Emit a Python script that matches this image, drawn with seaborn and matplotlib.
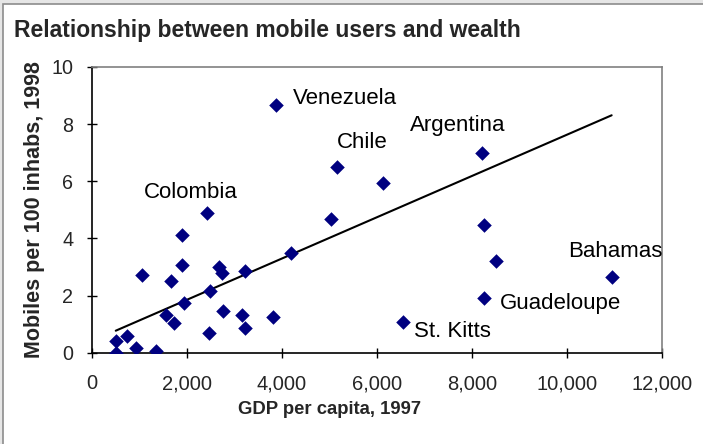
import matplotlib
matplotlib.use("Agg")
import matplotlib.pyplot as plt
import seaborn as sns
import pandas as pd
import numpy as np
from matplotlib.patches import Rectangle
from matplotlib.ticker import FuncFormatter, MultipleLocator

# GDP per capita 1997 (US$) and mobiles per 100 inhabitants 1998
gdp = [3870, 5165, 6130, 2415, 5040, 1890, 4190, 1045, 1890, 2680,
       2730, 3220, 1665, 2485, 1935, 1560, 1725, 2765, 3150, 3805,
       3230, 2470, 745, 500, 500, 920, 1345, 6555, 8205, 8245,
       8500, 10940, 8245]
mobiles = [8.66, 6.50, 5.94, 4.90, 4.67, 4.12, 3.50, 2.72, 3.07, 3.01,
           2.78, 2.87, 2.52, 2.17, 1.75, 1.32, 1.05, 1.47, 1.32, 1.26,
           0.85, 0.70, 0.58, 0.42, 0.00, 0.15, 0.06, 1.06, 6.99, 4.48,
           3.22, 2.66, 1.90]
labels = {0: "Venezuela", 1: "Chile", 3: "Colombia", 28: "Argentina",
          31: "Bahamas", 32: "Guadeloupe", 27: "St. Kitts"}
label_offsets = {0: (17, 7), 1: (0, 24), 3: (-63, 20), 28: (-72, 27),
                 31: (-44, 25), 32: (16, -5), 27: (11, -9)}
# trend line as drawn in the source (values read at the ends of the data range)
trend_x = [min(gdp), max(gdp)]
trend_y = [0.77, 8.31]

df = pd.DataFrame({"gdp": gdp, "mobiles": mobiles})
trend = pd.DataFrame({"gdp": trend_x, "mobiles": trend_y})

sns.set_style("white")
plt.rcParams["font.family"] = ["Liberation Sans", "DejaVu Sans"]

fig = plt.figure(figsize=(7.03, 4.44), dpi=100)
fig.patch.set_facecolor("white")
fig.add_artist(Rectangle((0, 0), 1, 1, transform=fig.transFigure,
                         facecolor="none", edgecolor="#e6e6e6", lw=5, zorder=-1))
fig.add_artist(Rectangle((3 / 703, -0.05), 1.2, (444 - 4) / 444 + 0.05,
                         transform=fig.transFigure, facecolor="white",
                         edgecolor="#8c8c8c", lw=1.2, zorder=-1))

ax = fig.add_axes([92 / 703, (444 - 352.7) / 444, 570 / 703, (352.7 - 67) / 444])

sns.lineplot(data=trend, x="gdp", y="mobiles", color="black", lw=1.5, ax=ax)
sns.scatterplot(data=df, x="gdp", y="mobiles", marker="D", s=55,
                color="#000080", linewidth=0, ax=ax, zorder=3)

for i, name in labels.items():
    dx, dy = label_offsets[i]
    ax.annotate(name, (gdp[i], mobiles[i]), xytext=(dx, dy),
                textcoords="offset pixels", ha="left", va="center",
                fontsize=16, color="black")

ax.set_xlim(0, 12000)
ax.set_ylim(0, 10)
ax.xaxis.set_major_locator(MultipleLocator(2000))
ax.yaxis.set_major_locator(MultipleLocator(2))
ax.xaxis.set_major_formatter(FuncFormatter(lambda v, p: f"{int(v):,}"))
ax.tick_params(axis="both", direction="inout", length=7, width=1, color="black")
ax.tick_params(axis="x", labelsize=14.5, pad=12)
ax.tick_params(axis="y", labelsize=14.2, pad=10)
ax.xaxis.set_ticks_position("bottom")
ax.yaxis.set_ticks_position("left")

for s in ["left", "bottom"]:
    ax.spines[s].set_color("black")
    ax.spines[s].set_linewidth(1.2)
for s in ["top", "right"]:
    ax.spines[s].set_color("#808080")
    ax.spines[s].set_linewidth(1.2)
    ax.spines[s].set_visible(True)

ax.set_xlabel("GDP per capita, 1997", fontsize=13.3, fontweight="bold")
ax.set_ylabel("Mobiles per 100 inhabs, 1998", fontsize=15.5, fontweight="bold")
ax.xaxis.set_label_coords((330 - 92) / 570, -(401 - 352.7) / (352.7 - 67))
ax.yaxis.set_label_coords(-(92 - 45) / 570, 0.5)

fig.text(14 / 703, 1 - 30 / 444, "Relationship between mobile users and wealth",
         fontsize=16.5, fontweight="bold", ha="left", va="center")

fig.savefig("out.png", dpi=100)
